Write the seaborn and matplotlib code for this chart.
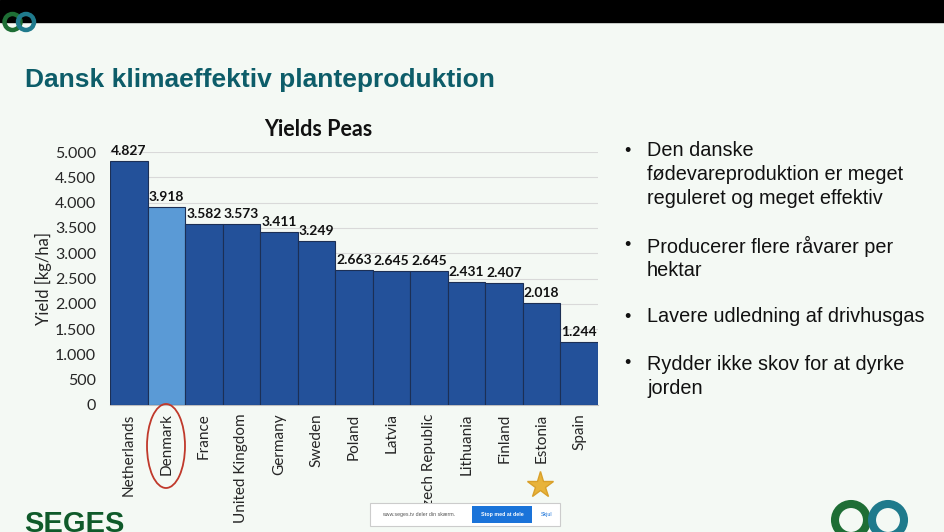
import matplotlib.pyplot as plt
import matplotlib.patches as mpatches
import pandas as pd
import seaborn as sns

countries = ["Netherlands", "Denmark", "France", "United Kingdom", "Germany", "Sweden",
             "Poland", "Latvia", "Czech Republic", "Lithuania", "Finland", "Estonia", "Spain"]
yields = [4827, 3918, 3582, 3573, 3411, 3249, 2663, 2645, 2645, 2431, 2407, 2018, 1244]
highlight = "Denmark"
yticks = [0, 500, 1000, 1500, 2000, 2500, 3000, 3500, 4000, 4500, 5000]

bullets = [
    ["Den danske", "fødevareproduktion er meget", "reguleret og meget effektiv"],
    ["Producerer flere råvarer per", "hektar"],
    ["Lavere udledning af drivhusgas"],
    ["Rydder ikke skov for at dyrke", "jorden"],
]

BG = "#f4f9f4"
DARK = "#23519a"
LIGHT = "#5a9ad6"
ARIAL = ["Liberation Sans", "DejaVu Sans"]

sns.set_style("white")
plt.rcParams["font.family"] = ["Lato", "DejaVu Sans"]

df = pd.DataFrame({"country": countries, "yield": yields})
palette = {c: (LIGHT if c == highlight else DARK) for c in countries}

fig = plt.figure(figsize=(9.45, 5.32), dpi=100, facecolor=BG)
W, H = 945, 532

# bar chart
ax = fig.add_axes([110 / W, 1 - 405 / H, 488 / W, 253 / H])
ax.set_facecolor(BG)
sns.barplot(data=df, x="country", y="yield", hue="country", palette=palette,
            order=countries, width=1.0, edgecolor="#1c2f55", linewidth=0.8,
            saturation=1, legend=False, ax=ax, zorder=3)
ax.set_ylim(0, 5000)
ax.set_xlim(-0.5, len(countries) - 0.5)
ax.set_yticks(yticks)
ax.set_yticklabels([f"{v:,}".replace(",", ".") for v in yticks], fontsize=11.5)
ax.yaxis.grid(True, color="#d9d9d9", linewidth=0.8, zorder=0)
ax.tick_params(axis="y", length=0, pad=10)
ax.tick_params(axis="x", length=0, pad=6)
ax.set_xticks(range(len(countries)))
ax.set_xticklabels(countries, rotation=90, fontsize=11, va="top")
ax.set_xlabel("")
ax.set_ylabel("Yield [kg/ha]", fontsize=12, labelpad=2)
for s in ["left", "right", "top"]:
    ax.spines[s].set_visible(False)
ax.spines["bottom"].set_color("#bfbfbf")

for i, v in enumerate(yields):
    ax.text(i, v + 80, f"{v:,}".replace(",", "."), ha="center", va="bottom",
            fontsize=10, fontweight="bold", color="#111111")

fig.text(318 / W, 1 - 130 / H, "Yields Peas", ha="center", va="center",
         fontsize=15.5, fontweight="bold", color="#111111")

# slide decorations, drawn in pixel coordinates
ov = fig.add_axes([0, 0, 1, 1], zorder=-1)
ov.set_xlim(0, W)
ov.set_ylim(H, 0)
ov.axis("off")
ov.add_patch(mpatches.Rectangle((0, 0), W, 22, color="black"))

top = fig.add_axes([0, 0, 1, 1], zorder=5)
top.set_xlim(0, W)
top.set_ylim(H, 0)
top.axis("off")
top.patch.set_alpha(0)

for cx, cy, r, lw, col in [(12.5, 22, 8, 3.2, "#1e6e35"), (26, 22, 8, 3.2, "#1f7a8c"),
                           (851, 520, 16, 5.8, "#1e6e35"), (888, 520, 16, 5.8, "#1f7a8c")]:
    top.add_patch(mpatches.Circle((cx, cy), r, fill=False, lw=lw, color=col))

fig.text(25 / W, 1 - 80 / H, "Dansk klimaeffektiv planteproduktion",
         fontsize=19, fontweight="bold", color="#0d5d69", family=ARIAL, va="center")

y = 151
for group in bullets:
    fig.text(624 / W, 1 - y / H, "•", fontsize=13, va="center", family=ARIAL, color="#111111")
    for line in group:
        fig.text(647 / W, 1 - y / H, line, fontsize=14.3, va="center",
                 family=ARIAL, color="#111111")
        y += 24
    y += 23

top.add_patch(mpatches.Ellipse((166, 446), 38, 84, fill=False, lw=1.3, color="#c0392b"))
top.plot([540], [485], marker="*", markersize=20, color="#e8b33a", markeredgecolor="#d9a02a")

fig.text(24 / W, 1 - 524 / H, "SEGES", fontsize=21, fontweight="bold", color="#0f5a2a",
         family=ARIAL, va="center")

top.add_patch(mpatches.Rectangle((370, 503), 190, 23, facecolor="white",
                                 edgecolor="#cccccc", lw=0.8))
top.add_patch(mpatches.Rectangle((472, 506), 60, 17, facecolor="#1a73d9", edgecolor="none"))
top.text(382, 514.5, "www.seges.tv deler din skærm.", fontsize=3.8, color="#555555",
         va="center", family=ARIAL)
top.text(502, 514.5, "Stop med at dele", fontsize=3.8, color="white", va="center",
         ha="center", fontweight="bold", family=ARIAL)
top.text(541, 514.5, "Skjul", fontsize=3.8, color="#1a73d9", va="center", family=ARIAL)

fig.savefig("out.png", dpi=100, facecolor=BG)
